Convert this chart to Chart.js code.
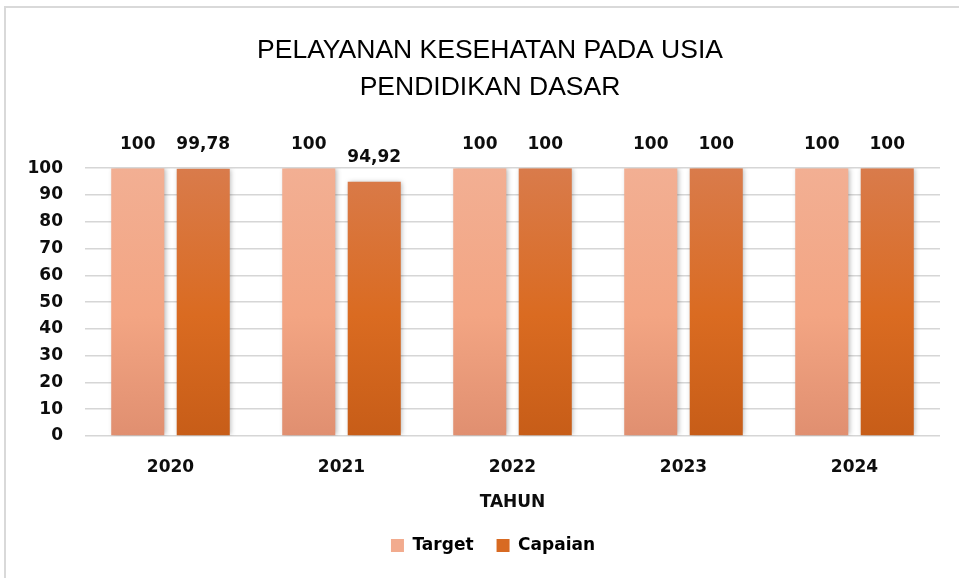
<!DOCTYPE html>
<html>
<head>
<meta charset="utf-8">
<script src="https://cdn.jsdelivr.net/npm/chart.js@4/dist/chart.umd.min.js"></script>
<style>
  html, body { margin: 0; padding: 0; background: #ffffff; }
  #wrap { position: relative; width: 959px; height: 578px; }
</style>
</head>
<body>
<div id="wrap"><canvas id="c" width="959" height="578"></canvas></div>
<script>
const titleLines = ['PELAYANAN KESEHATAN PADA USIA', 'PENDIDIKAN DASAR'];
const categories = ['2020', '2021', '2022', '2023', '2024'];
const targetValues = [100, 100, 100, 100, 100];
const capaianValues = [99.78, 94.92, 100, 100, 100];
const seriesNames = ['Target', 'Capaian'];
const xAxisTitle = 'TAHUN';
const yMin = 0, yMax = 100, yStep = 10;

const FONT = "'DejaVu Sans', 'Liberation Sans', sans-serif";

function makeGradient(stops) {
  return function (ctx) {
    const chart = ctx.chart;
    const area = chart.chartArea;
    if (!area) return stops[1];
    const g = chart.ctx.createLinearGradient(0, area.top, 0, area.bottom);
    g.addColorStop(0, stops[0]);
    g.addColorStop(0.55, stops[1]);
    g.addColorStop(1, stops[2]);
    return g;
  };
}

const framePlugin = {
  id: 'frame',
  beforeDraw(chart) {
    const c = chart.ctx;
    c.save();
    c.strokeStyle = '#d9d9d9';
    c.lineWidth = 2;
    c.beginPath();
    c.moveTo(5, 578);
    c.lineTo(5, 7);
    c.lineTo(959, 7);
    c.stroke();
    c.restore();
  }
};

// nudge title and legend to the reference's horizontal centre
const centerShiftPlugin = {
  id: 'centerShift',
  afterLayout(chart) {
    if (chart.titleBlock) { chart.titleBlock.left += 10; chart.titleBlock.right += 10; }
    if (chart.legend) { chart.legend.left += 13; chart.legend.right += 13; }
  }
};

const shadowPlugin = {
  id: 'barShadow',
  beforeDatasetsDraw(chart) {
    const c = chart.ctx;
    c.save();
    c.shadowColor = 'rgba(0,0,0,0.3)';
    c.shadowBlur = 5;
    c.shadowOffsetX = 1.5;
    c.shadowOffsetY = 0;
  },
  afterDatasetsDraw(chart) {
    chart.ctx.restore();
  }
};

const labelPlugin = {
  id: 'valueLabels',
  afterDatasetsDraw(chart) {
    const c = chart.ctx;
    c.save();
    c.font = "bold 17px " + FONT;
    c.fillStyle = '#0d0d0d';
    c.textAlign = 'center';
    c.textBaseline = 'middle';
    chart.data.datasets.forEach((ds, di) => {
      const meta = chart.getDatasetMeta(di);
      meta.data.forEach((bar, i) => {
        const v = ds.data[i];
        const txt = String(v).replace('.', ',');
        c.fillText(txt, bar.x, bar.y - 24);
      });
    });
    c.restore();
  }
};

new Chart(document.getElementById('c'), {
  type: 'bar',
  data: {
    labels: categories,
    datasets: [
      {
        label: seriesNames[0],
        data: targetValues,
        backgroundColor: makeGradient(['#F2AF93', '#F3A583', '#E08F70']),
        borderWidth: 0,
        barPercentage: 0.81,
        categoryPercentage: 0.766
      },
      {
        label: seriesNames[1],
        data: capaianValues,
        backgroundColor: makeGradient(['#D97B4B', '#DA6B21', '#C75D18']),
        borderWidth: 0,
        barPercentage: 0.81,
        categoryPercentage: 0.766
      }
    ]
  },
  options: {
    responsive: false,
    animation: false,
    devicePixelRatio: 1,
    layout: { padding: { left: 20, right: 19, top: 0, bottom: 14 } },
    plugins: {
      title: {
        display: true,
        text: titleLines,
        color: '#000000',
        font: { family: "'Liberation Sans', sans-serif", size: 26.5, weight: 'normal', lineHeight: 1.4 },
        padding: { top: 32, bottom: 62 }
      },
      legend: {
        display: true,
        position: 'bottom',
        labels: {
          boxWidth: 13,
          boxHeight: 13,
          padding: 23,
          color: '#0d0d0d',
          font: { family: FONT, size: 17, weight: 'bold' },
          generateLabels(chart) {
            const cols = ['#F2AB8E', '#D86A22'];
            return chart.data.datasets.map((ds, i) => ({
              text: ds.label,
              fillStyle: cols[i],
              strokeStyle: cols[i],
              lineWidth: 0,
              hidden: false,
              datasetIndex: i
            }));
          }
        }
      },
      tooltip: { enabled: false }
    },
    scales: {
      x: {
        afterFit(scale) { scale.height = 78; },
        grid: { display: false, drawTicks: false },
        border: { display: false },
        ticks: {
          color: '#0d0d0d',
          padding: 21,
          font: { family: FONT, size: 17, weight: 'bold' }
        },
        title: {
          display: true,
          text: xAxisTitle,
          color: '#0d0d0d',
          font: { family: FONT, size: 17, weight: 'bold' },
          padding: { top: 0, bottom: 1 }
        }
      },
      y: {
        min: yMin,
        max: yMax,
        afterFit(scale) { scale.width = 65; },
        grid: { color: '#d6d6d6', lineWidth: 1.5, drawTicks: false },
        border: { display: false },
        ticks: {
          stepSize: yStep,
          color: '#0d0d0d',
          padding: 22,
          font: { family: FONT, size: 17, weight: 'bold' }
        }
      }
    }
  },
  plugins: [framePlugin, centerShiftPlugin, shadowPlugin, labelPlugin]
});
</script>
</body>
</html>
